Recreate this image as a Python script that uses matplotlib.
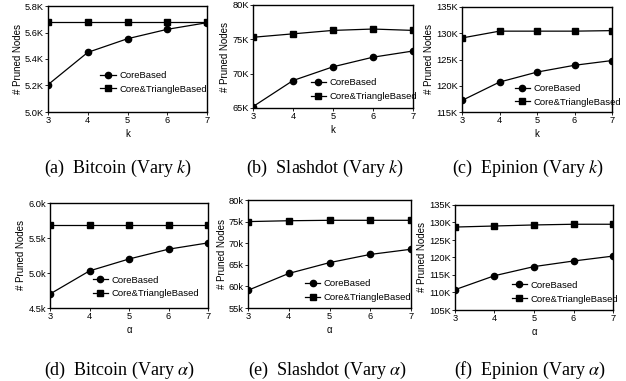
import matplotlib
matplotlib.use("Agg")
import matplotlib.pyplot as plt

plt.rcParams['font.family'] = ['Liberation Sans', 'DejaVu Sans']
plt.rcParams['mathtext.fontset'] = 'stix'

x = [3, 4, 5, 6, 7]

# values in thousands
bitcoin_k_core = [5.206, 5.45, 5.553, 5.624, 5.674]
bitcoin_k_tri = [5.682, 5.682, 5.682, 5.682, 5.682]
slashdot_k_core = [65.2, 69.0, 71.0, 72.4, 73.3]
slashdot_k_tri = [75.3, 75.8, 76.3, 76.5, 76.3]
epinion_k_core = [117.2, 120.7, 122.6, 123.9, 124.8]
epinion_k_tri = [129.1, 130.4, 130.4, 130.4, 130.5]

bitcoin_a_core = [4.70, 5.03, 5.20, 5.34, 5.43]
bitcoin_a_tri = [5.68, 5.68, 5.68, 5.68, 5.68]
slashdot_a_core = [59.1, 63.0, 65.5, 67.4, 68.6]
slashdot_a_tri = [75.0, 75.2, 75.3, 75.3, 75.3]
epinion_a_core = [110.8, 114.8, 117.4, 119.0, 120.4]
epinion_a_tri = [128.7, 129.0, 129.3, 129.5, 129.5]

ticks_bk = [5.0, 5.2, 5.4, 5.6, 5.8]
labels_bk = ["5.0K", "5.2K", "5.4K", "5.6K", "5.8K"]
ticks_sk = [65, 70, 75, 80]
labels_sk = ["65K", "70K", "75K", "80K"]
ticks_ek = [115, 120, 125, 130, 135]
labels_ek = ["115K", "120K", "125K", "130K", "135K"]
ticks_ba = [4.5, 5.0, 5.5, 6.0]
labels_ba = ["4.5k", "5.0k", "5.5k", "6.0k"]
ticks_sa = [55, 60, 65, 70, 75, 80]
labels_sa = ["55k", "60k", "65k", "70k", "75k", "80k"]
ticks_ea = [105, 110, 115, 120, 125, 130, 135]
labels_ea = ["105K", "110K", "115K", "120K", "125K", "130K", "135K"]

captions = ["(a)  Bitcoin (Vary $k$)", "(b)  Slashdot (Vary $k$)", "(c)  Epinion (Vary $k$)",
            "(d)  Bitcoin (Vary $\\alpha$)", "(e)  Slashdot (Vary $\\alpha$)", "(f)  Epinion (Vary $\\alpha$)"]

W, H = 626, 381
fig = plt.figure(figsize=(W / 100, H / 100), dpi=100)

# (left, right, top, bottom) in pixels, legend anchor, caption x/y
panels = [
    ((48, 207, 6, 112), (0.33, 0.28), (118, 168), bitcoin_k_core, bitcoin_k_tri, ticks_bk, labels_bk, "k"),
    ((253, 413, 5, 108), (0.36, 0.18), (325, 168), slashdot_k_core, slashdot_k_tri, ticks_sk, labels_sk, "k"),
    ((462, 612, 7, 112), (0.35, 0.16), (528, 168), epinion_k_core, epinion_k_tri, ticks_ek, labels_ek, "k"),
    ((50, 208, 203, 308), (0.27, 0.20), (120, 370), bitcoin_a_core, bitcoin_a_tri, ticks_ba, labels_ba, "\u03b1"),
    ((248, 411, 200, 308), (0.35, 0.16), (328, 370), slashdot_a_core, slashdot_a_tri, ticks_sa, labels_sa, "\u03b1"),
    ((455, 613, 205, 310), (0.36, 0.17), (530, 370), epinion_a_core, epinion_a_tri, ticks_ea, labels_ea, "\u03b1"),
]

for i, (box, leg, cap, core, tri, yt, yl, xl) in enumerate(panels):
    l, r, t, b = box
    ax = fig.add_axes([l / W, 1 - b / H, (r - l) / W, (b - t) / H])
    ax.plot(x, core, color="black", lw=0.9, marker="o", markersize=4.5, label="CoreBased")
    ax.plot(x, tri, color="black", lw=0.9, marker="s", markersize=4.5, label="Core&TriangleBased")
    ax.set_xlim(3, 7)
    ax.set_ylim(yt[0], yt[-1])
    ax.set_xticks(x)
    ax.set_yticks(yt)
    ax.set_yticklabels(yl)
    ax.tick_params(labelsize=6.7, length=2, width=0.6, pad=1)
    ax.set_xlabel(xl, fontsize=7, labelpad=3)
    ax.set_ylabel("# Pruned Nodes", fontsize=7, labelpad=1.5)
    for s in ax.spines.values():
        s.set_linewidth(1.0)
    ax.legend(loc="center left", bbox_to_anchor=leg, frameon=False, fontsize=6.8,
              handlelength=1.6, handletextpad=0.4, borderpad=0, borderaxespad=0,
              labelspacing=0.5)
    fig.text(cap[0] / W, 1 - cap[1] / H, captions[i], ha="center", va="center",
             fontsize=13, family=["Liberation Serif", "DejaVu Serif"])

fig.savefig("out.png", dpi=100)
